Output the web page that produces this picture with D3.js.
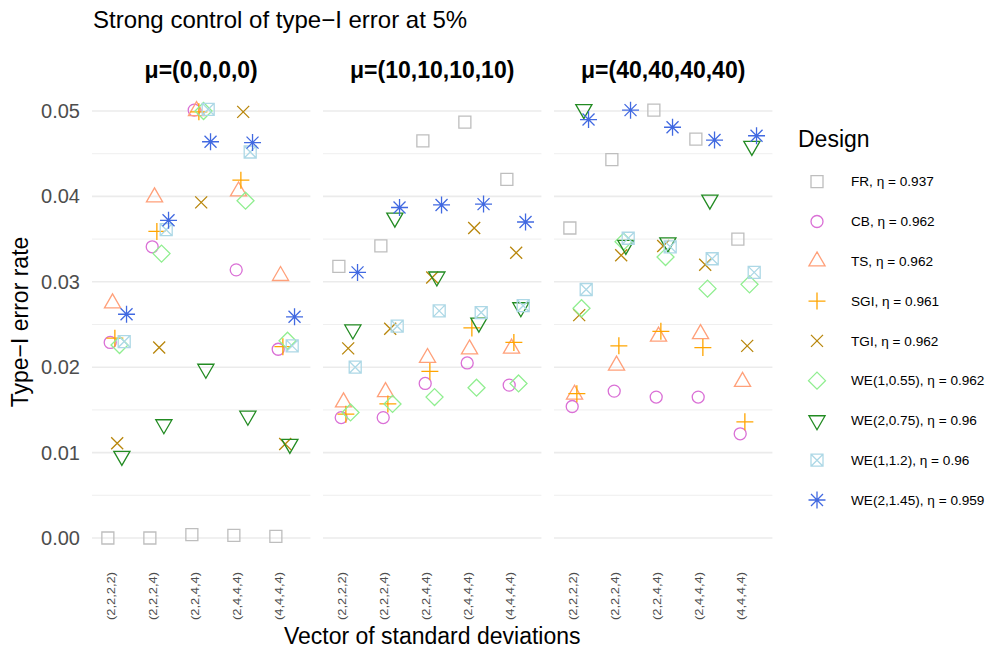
<!DOCTYPE html>
<html>
<head>
<meta charset="utf-8">
<script src="https://cdn.jsdelivr.net/npm/d3@7"></script>
<style>
  html, body { margin: 0; padding: 0; background: #fff; }
  svg { display: block; font-family: "Liberation Sans", Arial, Helvetica, sans-serif; }
</style>
</head>
<body>
<svg id="chart" width="987" height="652"></svg>
<script>
// Facets (mean vectors), x categories (vectors of standard deviations)
const panels = ["μ=(0,0,0,0)", "μ=(10,10,10,10)", "μ=(40,40,40,40)"];
const categories = ["(2,2,2,2)", "(2,2,2,4)", "(2,2,4,4)", "(2,4,4,4)", "(4,4,4,4)"];

// Designs, efficiencies, colours and point shapes
const designs = ["FR", "CB", "TS", "SGI", "TGI", "WE(1,0.55)", "WE(2,0.75)", "WE(1,1.2)", "WE(2,1.45)"];
const etas = ["0.937", "0.962", "0.962", "0.961", "0.962", "0.962", "0.96", "0.96", "0.959"];
const colors = ["#BEBEBE", "#DA70D6", "#FFA07A", "#FFA500", "#B8860B", "#90EE90", "#228B22", "#ADD8E6", "#4169E1"];
const shapes = ["square", "circle", "triangle", "plus", "cross", "diamond", "triangleDown", "squareCross", "asterisk"];

// Type-I error rates: each row is one facet, each column one category
const fr   = [[0.0000, 0.0000, 0.0004, 0.0003, 0.0002], [0.0318, 0.0342, 0.0465, 0.0487, 0.0420], [0.0363, 0.0443, 0.0501, 0.0467, 0.0350]];
const cb   = [[0.0229, 0.0341, 0.0501, 0.0314, 0.0221], [0.0141, 0.0141, 0.0181, 0.0205, 0.0179], [0.0154, 0.0172, 0.0165, 0.0165, 0.0122]];
const ts   = [[0.0275, 0.0399, 0.0500, 0.0406, 0.0307], [0.0159, 0.0171, 0.0211, 0.0221, 0.0222], [0.0168, 0.0202, 0.0236, 0.0239, 0.0183]];
const sgi  = [[0.0234, 0.0359, 0.0499, 0.0419, 0.0224], [0.0145, 0.0157, 0.0195, 0.0246, 0.0229], [0.0169, 0.0225, 0.0242, 0.0223, 0.0136]];
const tgi  = [[0.0111, 0.0223, 0.0393, 0.0499, 0.0110], [0.0222, 0.0245, 0.0305, 0.0363, 0.0334], [0.0261, 0.0331, 0.0342, 0.0320, 0.0225]];
const we1  = [[0.0226, 0.0333, 0.0500, 0.0395, 0.0231], [0.0147, 0.0157, 0.0165, 0.0176, 0.0181], [0.0269, 0.0347, 0.0329, 0.0292, 0.0297]];
const we2  = [[0.0096, 0.0133, 0.0198, 0.0143, 0.0110], [0.0244, 0.0375, 0.0306, 0.0252, 0.0270], [0.0502, 0.0343, 0.0346, 0.0396, 0.0459]];
const we3  = [[0.0230, 0.0361, 0.0502, 0.0452, 0.0225], [0.0200, 0.0248, 0.0266, 0.0264, 0.0272], [0.0291, 0.0351, 0.0341, 0.0327, 0.0311]];
const we4  = [[0.0262, 0.0372, 0.0464, 0.0463, 0.0259], [0.0311, 0.0387, 0.0390, 0.0391, 0.0370], [0.0490, 0.0501, 0.0481, 0.0466, 0.0471]];
const seriesValues = [fr, cb, ts, sgi, tgi, we1, we2, we3, we4];

const yMajor = [0, 0.01, 0.02, 0.03, 0.04, 0.05];
const yMinor = [0.005, 0.015, 0.025, 0.035, 0.045];

// Layout
const svg = d3.select("#chart");
const panelTop = 85, panelBottom = 559;
const panelLeft = 92, panelWidth = 218.4, panelGap = 12.6;
const step = panelWidth / 5.2;

const y = d3.scaleLinear().domain([0, 0.05]).range([538, 111]);
const dodgeHalf = step * 0.5 * 4 / 9;
const dodge = d3.scalePoint().domain(designs).range([-dodgeHalf, dodgeHalf]);

const tickGrey = "#4D4D4D";
const gridCol = "#EBEBEB";

// Point glyphs, sized like R's pch 0-8
const R = 6;
function glyph(shape, r) {
  const p = d3.path();
  const s2 = Math.SQRT2 * r;
  switch (shape) {
    case "square": p.rect(-r, -r, 2 * r, 2 * r); break;
    case "circle": p.moveTo(r, 0); p.arc(0, 0, r, 0, 2 * Math.PI); p.closePath(); break;
    case "triangle": {
      const a = 1.55512 * r, h = 0.77756 * r, w = 1.34677 * r;
      p.moveTo(0, -a); p.lineTo(w, h); p.lineTo(-w, h); p.closePath(); break;
    }
    case "triangleDown": {
      const a = 1.55512 * r, h = 0.77756 * r, w = 1.34677 * r;
      p.moveTo(0, a); p.lineTo(w, -h); p.lineTo(-w, -h); p.closePath(); break;
    }
    case "plus": p.moveTo(-s2, 0); p.lineTo(s2, 0); p.moveTo(0, -s2); p.lineTo(0, s2); break;
    case "cross": p.moveTo(-r, -r); p.lineTo(r, r); p.moveTo(-r, r); p.lineTo(r, -r); break;
    case "diamond": p.moveTo(0, -s2); p.lineTo(s2, 0); p.lineTo(0, s2); p.lineTo(-s2, 0); p.closePath(); break;
    case "squareCross":
      p.rect(-r, -r, 2 * r, 2 * r);
      p.moveTo(-r, -r); p.lineTo(r, r); p.moveTo(-r, r); p.lineTo(r, -r); break;
    case "asterisk":
      p.moveTo(-s2, 0); p.lineTo(s2, 0); p.moveTo(0, -s2); p.lineTo(0, s2);
      p.moveTo(-r, -r); p.lineTo(r, r); p.moveTo(-r, r); p.lineTo(r, -r); break;
  }
  return p.toString();
}

// Title
svg.append("text")
  .attr("x", 93).attr("y", 28)
  .attr("font-size", 24).attr("fill", "#000")
  .text("Strong control of type\u2212I error at 5%");

panels.forEach((label, pi) => {
  const x0 = panelLeft + pi * (panelWidth + panelGap);
  const x1 = x0 + panelWidth;
  const x = d3.scalePoint().domain(categories).range([x0 + 0.6 * step, x1 - 0.6 * step]);
  const g = svg.append("g");

  // grid
  g.selectAll("line.minor").data(yMinor).join("line")
    .attr("x1", x0).attr("x2", x1)
    .attr("y1", d => y(d)).attr("y2", d => y(d))
    .attr("stroke", gridCol).attr("stroke-width", 0.8);
  g.selectAll("line.major").data(yMajor).join("line")
    .attr("x1", x0).attr("x2", x1)
    .attr("y1", d => y(d)).attr("y2", d => y(d))
    .attr("stroke", gridCol).attr("stroke-width", 1.6);

  // strip label
  svg.append("text")
    .attr("x", (x0 + x1) / 2).attr("y", 78)
    .attr("text-anchor", "middle").attr("font-size", 23).attr("font-weight", "bold")
    .text(label);

  // x axis
  const xAxis = svg.append("g").attr("transform", `translate(0,${panelBottom})`)
    .call(d3.axisBottom(x).tickSize(0).tickPadding(0));
  xAxis.select(".domain").remove();
  xAxis.selectAll("text")
    .attr("font-size", 10).attr("font-family", null).attr("fill", tickGrey)
    .attr("dy", null).attr("y", 0).attr("x", 0)
    .attr("text-anchor", "end")
    .attr("transform", "translate(-2.5,13) rotate(-90) scale(1.29,1)");

  // points
  designs.forEach((d, di) => {
    const vals = seriesValues[di][pi];
    svg.append("g").selectAll("path").data(categories).join("path")
      .attr("transform", (c, ci) => `translate(${x(c) + dodge(d)},${y(vals[ci])})`)
      .attr("d", glyph(shapes[di], R))
      .attr("fill", "none")
      .attr("stroke", colors[di])
      .attr("stroke-width", 1.3);
  });
});

// y axis
const yAxis = svg.append("g").attr("transform", `translate(${panelLeft},0)`)
  .call(d3.axisLeft(y).tickValues(yMajor).tickFormat(d3.format(".2f")).tickSize(0).tickPadding(12));
yAxis.select(".domain").remove();
yAxis.selectAll("text").attr("font-size", 20).attr("font-family", null).attr("fill", tickGrey);

// axis titles
svg.append("text")
  .attr("transform", `translate(28,${(panelTop + panelBottom) / 2}) rotate(-90)`)
  .attr("text-anchor", "middle").attr("font-size", 23)
  .text("Type\u2212I error rate");
svg.append("text")
  .attr("x", panelLeft + (3 * panelWidth + 2 * panelGap) / 2).attr("y", 644)
  .attr("text-anchor", "middle").attr("font-size", 23)
  .text("Vector of standard deviations");

// legend
const legend = svg.append("g");
legend.append("text").attr("x", 798).attr("y", 147).attr("font-size", 23).text("Design");
const keyY = d3.scalePoint().domain(designs).range([181.7, 500]);
designs.forEach((d, di) => {
  legend.append("path")
    .attr("transform", `translate(817,${keyY(d)})`)
    .attr("d", glyph(shapes[di], R))
    .attr("fill", "none").attr("stroke", colors[di]).attr("stroke-width", 1.3);
  const t = legend.append("text")
    .attr("x", 851).attr("y", keyY(d)).attr("dy", "0.35em")
    .attr("font-size", 13.6).attr("fill", "#000");
  t.append("tspan").text(`${d}, η`);
  t.append("tspan").attr("dx", 3.8).text("=");
  t.append("tspan").attr("dx", 3.8).text(etas[di]);
});
</script>
</body>
</html>
